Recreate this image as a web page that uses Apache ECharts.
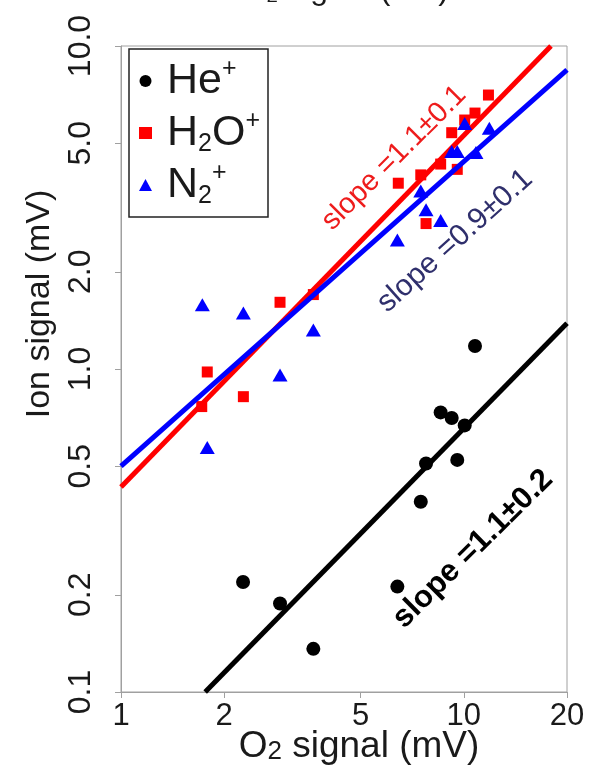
<!DOCTYPE html>
<html><head><meta charset="utf-8">
<script src="https://cdn.jsdelivr.net/npm/echarts@6/dist/echarts.min.js"></script>
<style>html,body{margin:0;padding:0;background:#fff}#c{width:597px;height:779px}</style>
</head><body><div id="c"></div>
<script>
// ---- data ----
const xTicks = [1, 2, 5, 10, 20];
const yTicks = [0.1, 0.2, 0.5, 1, 2, 5, 10];
const seriesNames = ['He+', 'H2O+', 'N2+'];
const heX  = [2.27, 2.91, 3.64, 6.40, 7.49, 7.76, 8.56, 9.22, 9.57, 10.06, 10.78];
const heY  = [0.219, 0.188, 0.136, 0.212, 0.388, 0.510, 0.734, 0.705, 0.523, 0.669, 1.178];
const h2oX = [1.72, 1.785, 2.275, 2.91, 3.64, 6.44, 7.49, 7.76, 8.56, 9.22, 9.57, 10.06, 10.78, 11.8];
const h2oY = [0.765, 0.979, 0.821, 1.609, 1.70, 3.76, 3.99, 2.82, 4.31, 5.39, 4.15, 5.90, 6.20, 7.05];
const n2X  = [1.727, 1.785, 2.275, 2.91, 3.64, 6.40, 7.49, 7.76, 8.56, 9.22, 9.57, 10.06, 10.85, 11.87];
const n2Y  = [1.58, 0.571, 1.49, 0.958, 1.32, 2.51, 3.56, 3.11, 2.88, 4.71, 4.71, 5.76, 4.68, 5.56];
// fitted lines (end points)
const heFitX  = [1.76, 20],  heFitY  = [0.1, 1.385];
const h2oFitX = [1, 17.96],  h2oFitY = [0.431, 10];
const n2FitX  = [1, 20],     n2FitY  = [0.50, 8.43];
const slopeTexts = ['slope =1.1\u00b10.2', 'slope =1.1\u00b10.1', 'slope =0.9\u00b10.1'];
const topCutText = 'O\u2082 signal (mV)';

const zip = (a, b) => a.map((v, i) => [v, b[i]]);
const FONT = 'Liberation Sans, Arial, Helvetica, sans-serif';
const AX = '#a0a0a0';
const TXT = '#1a1a1a';

const chart = echarts.init(document.getElementById('c'), null, {renderer: 'canvas'});
const legendLabels = {'He+': 'He{sup|+}', 'H2O+': 'H{sub|2}O{sup|+}', 'N2+': 'N{sub|2}{sup|+}'};

chart.setOption({
  animation: false,
  backgroundColor: '#fff',
  textStyle: {fontFamily: FONT},
  grid: {left: 121, top: 46, right: 30, bottom: 87, show: true, borderColor: AX, borderWidth: 1, containLabel: false},
  xAxis: {
    type: 'log', logBase: 10, min: 1, max: 20,
    name: 'O{sub|2} signal (mV)', nameLocation: 'middle', nameGap: 36, nameMoveOverlap: false,
    nameTextStyle: {fontSize: 37, color: TXT, fontFamily: FONT, padding: [0, 0, 0, 30],
      rich: {sub: {fontSize: 26, verticalAlign: 'bottom', color: TXT, fontFamily: FONT}}},
    axisLine: {show: true, lineStyle: {color: AX, width: 1}},
    axisTick: {show: true, length: 6, lineStyle: {color: AX}, customValues: xTicks},
    axisLabel: {show: true, fontSize: 31, color: TXT, margin: 9, fontFamily: FONT,
      customValues: xTicks, formatter: v => String(Math.round(v))},
    splitLine: {show: false}, minorTick: {show: false}
  },
  yAxis: {
    type: 'log', logBase: 10, min: 0.1, max: 10,
    name: 'Ion signal (mV)', nameLocation: 'middle', nameGap: 56,
    nameTextStyle: {fontSize: 34, color: TXT, fontFamily: FONT, padding: [0, 0, 0, 130]},
    axisLine: {show: true, lineStyle: {color: AX, width: 1}},
    axisTick: {show: true, length: 6, lineStyle: {color: AX}, customValues: yTicks},
    axisLabel: {show: true, fontSize: 32, color: TXT, margin: 24, rotate: 90, fontFamily: FONT,
      customValues: yTicks, formatter: v => Number(v).toFixed(1)},
    splitLine: {show: false}, minorTick: {show: false}
  },
  legend: {
    orient: 'vertical', left: 129, top: 49,
    padding: [8, 8, 8, 10],
    borderColor: '#222', borderWidth: 1.5,
    itemWidth: 13, itemHeight: 12, itemGap: 4,
    data: [
      {name: 'He+', icon: 'circle'},
      {name: 'H2O+', icon: 'rect'},
      {name: 'N2+', icon: 'triangle'}
    ],
    formatter: n => legendLabels[n],
    textStyle: {fontSize: 43, color: TXT, lineHeight: 48, fontFamily: FONT, padding: [0, 0, 0, 10],
      rich: {
        sup: {fontSize: 25, verticalAlign: 'top', color: TXT, fontFamily: FONT, lineHeight: 26},
        sub: {fontSize: 25, verticalAlign: 'bottom', color: TXT, fontFamily: FONT, lineHeight: 22}
      }}
  },
  series: [
    {name: 'fitHe', type: 'line', data: zip(heFitX, heFitY), showSymbol: false, silent: true,
      lineStyle: {color: '#000', width: 5}, z: 2},
    {name: 'fitH2O', type: 'line', data: zip(h2oFitX, h2oFitY), showSymbol: false, silent: true,
      lineStyle: {color: '#ff0000', width: 5}, z: 2},
    {name: seriesNames[0], type: 'scatter', data: zip(heX, heY), symbol: 'circle', symbolSize: 14,
      itemStyle: {color: '#000', opacity: 1}, z: 3},
    {name: seriesNames[1], type: 'scatter', data: zip(h2oX, h2oY), symbol: 'rect', symbolSize: 11,
      itemStyle: {color: '#ff0000', opacity: 1}, z: 3},
    {name: 'fitN2', type: 'line', data: zip(n2FitX, n2FitY), showSymbol: false, silent: true,
      lineStyle: {color: '#0000ff', width: 5}, z: 4},
    {name: seriesNames[2], type: 'scatter', data: zip(n2X, n2Y), symbol: 'triangle', symbolSize: [15, 13],
      itemStyle: {color: '#0000ff', opacity: 1}, z: 5}
  ],
  graphic: [
    {type: 'text', x: 473, y: 549, rotation: 0.78, z: 10,
      style: {text: slopeTexts[0], fill: '#000', fontSize: 31, fontWeight: 'bold', fontFamily: FONT, align: 'center', verticalAlign: 'middle'}},
    {type: 'text', x: 394, y: 158, rotation: Math.PI / 4, z: 10,
      style: {text: slopeTexts[1], fill: '#ee1c1c', fontSize: 29, fontFamily: FONT, align: 'center', verticalAlign: 'middle'}},
    {type: 'text', x: 455, y: 241, rotation: 0.733, z: 10,
      style: {text: slopeTexts[2], fill: '#2f2f6c', fontSize: 30, fontFamily: FONT, align: 'center', verticalAlign: 'middle'}},
    {type: 'text', x: 345, y: -10, z: 10,
      style: {text: topCutText, fill: TXT, fontSize: 32, fontFamily: FONT, align: 'center', verticalAlign: 'middle'}}
  ]
});
</script></body></html>
